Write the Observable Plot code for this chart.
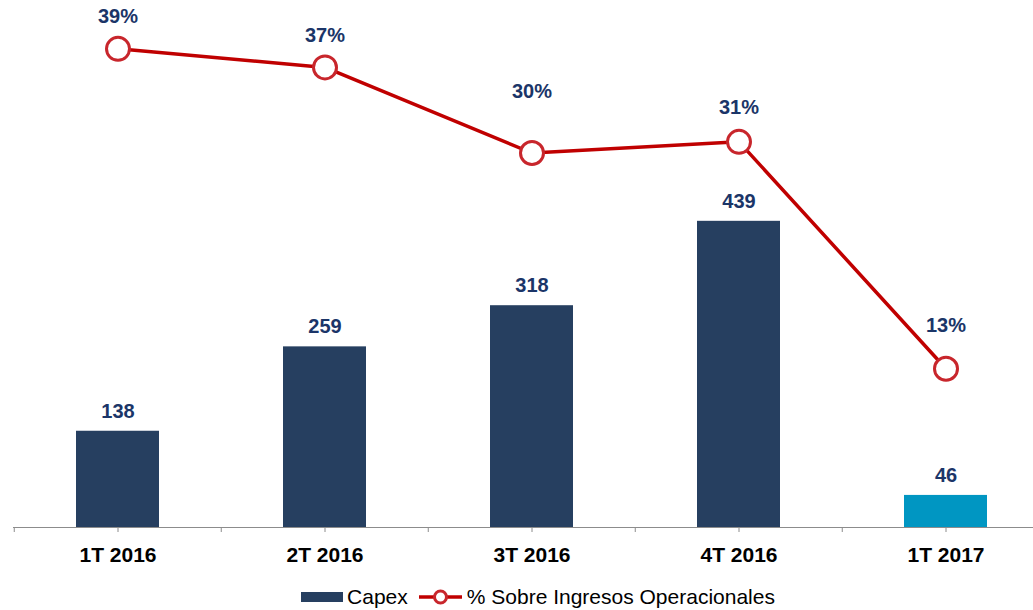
<!DOCTYPE html>
<html><head><meta charset="utf-8">
<script src="https://cdn.jsdelivr.net/npm/d3@7"></script>
<script src="https://cdn.jsdelivr.net/npm/@observablehq/plot@0.6"></script>
<style>
body{margin:0;background:#fff;font-family:"Liberation Sans",Arial,sans-serif;overflow:hidden}
#chart svg{display:block}
#legend{display:flex;align-items:center;justify-content:center;height:44px;margin-left:43px;font-size:21px;color:#000}
#legend .item{display:flex;align-items:center}
#legend svg{display:block}
</style></head><body>
<div id="chart"></div>
<div id="legend"></div>
<script>
const quarters = ["1T 2016","2T 2016","3T 2016","4T 2016","1T 2017"];
const capex = [138,259,318,439,46];
const pctSobreIngresos = [38.6,37.1,30.2,31.1,12.8];
const pctLabels = ["39%","37%","30%","31%","13%"];
const pctLabelDy = [-32,-32,-61,-34,-43];

const barColor = "#263F60", barColorLast = "#0096C2", lineColor = "#C00000", textColor = "#1B3568";
const pctToCapex = 17.78; // secondary axis ratio (1% in capex units)

const data = quarters.map((q,i)=>({q, capex:capex[i], pct:pctSobreIngresos[i], pctScaled:pctSobreIngresos[i]*pctToCapex, pctLabel:pctLabels[i], last:i===quarters.length-1}));

const step = (1050.5-13)/quarters.length;

const chart = Plot.plot({
  width:1033, height:575,
  marginTop:0, marginBottom:48, marginLeft:0, marginRight:0,
  style:{fontFamily:"'Liberation Sans', Arial, sans-serif", background:"#fff", overflow:"visible"},
  x:{domain:quarters, range:[13,1050.5], paddingInner:0.6, paddingOuter:0.3, label:null},
  y:{domain:[0,755.6], axis:null},
  marks:[
    Plot.barY(data,{x:"q", y:"capex", fill:d=>d.last?barColorLast:barColor}),
    Plot.ruleY([0],{stroke:"#8C8C8C", strokeWidth:1, insetLeft:13}),
    Plot.axisX({tickSize:5, tickPadding:15, fontSize:21, fontWeight:"bold", stroke:"#8C8C8C", strokeOpacity:1, color:"#000", tickFormat:d=>d}),
    Plot.axisX({tickSize:5, tickFormat:()=>"", stroke:"#8C8C8C", strokeOpacity:1, dx:-step/2}),
    Plot.text(data,{x:"q", y:"capex", text:d=>String(d.capex), dy:-20, fontSize:20, fontWeight:"bold", fill:textColor}),
    Plot.line(data,{x:"q", y:"pctScaled", stroke:lineColor, strokeWidth:3.5}),
    Plot.dot(data,{x:"q", y:"pctScaled", r:11.5, stroke:"#C8262C", strokeWidth:3, fill:"#fff"}),
    ...data.map((d,i)=>Plot.text([d],{x:"q", y:"pctScaled", text:"pctLabel", dy:pctLabelDy[i], fontSize:20, fontWeight:"bold", fill:textColor}))
  ]
});
document.getElementById("chart").appendChild(chart);

const lg = document.getElementById("legend");
lg.innerHTML = `<span class="item"><svg width="46" height="12"><rect x="0" y="1" width="42" height="10" fill="${barColor}"/></svg><span>Capex</span></span>
<span class="item" style="margin-left:11px"><svg width="48" height="16"><line x1="0" y1="8" x2="43" y2="8" stroke="${lineColor}" stroke-width="3.5"/><circle cx="21.5" cy="8" r="6" fill="#fff" stroke="#C8262C" stroke-width="3"/></svg><span>% Sobre Ingresos Operacionales</span></span>`;
</script>
</body></html>
